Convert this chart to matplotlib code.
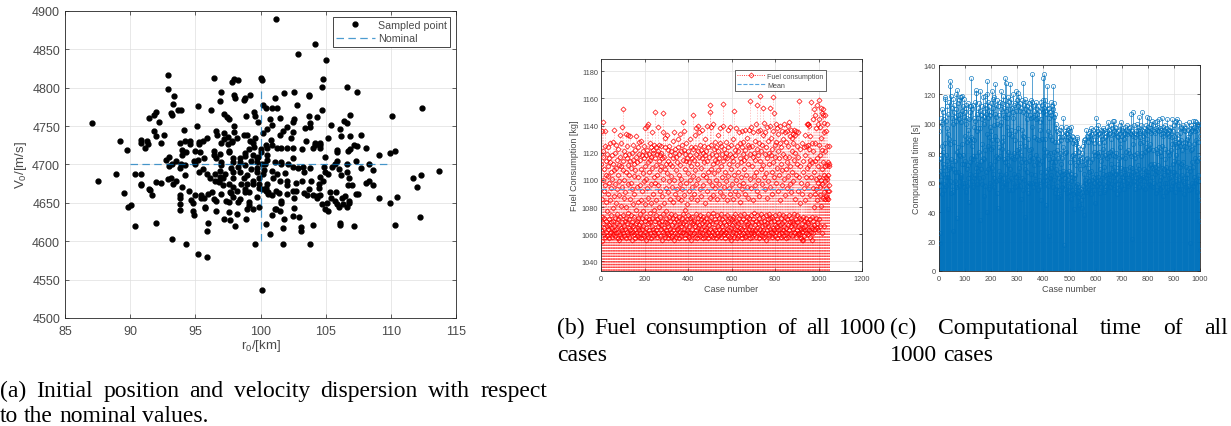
import numpy as np
import matplotlib.pyplot as plt
from matplotlib.lines import Line2D

plt.rcParams['font.family'] = ['Liberation Sans', 'DejaVu Sans']
plt.rcParams['mathtext.default'] = 'regular'

# (a) sampled initial conditions
r0_km = [
    101.2, 104.2, 102.9, 105.0, 92.9, 104.8, 100.0, 100.1, 97.8, 98.0,
    98.3, 96.4, 92.9, 93.4, 93.3, 104.7, 106.6, 107.4, 101.8, 102.6,
    103.7, 103.7, 98.0, 97.0, 99.2, 98.05, 98.8, 98.7, 96.9, 102.8,
    101.1, 100.2, 95.2, 96.2, 93.7, 93.9, 93.1, 93.2, 92.0, 91.8,
    91.45, 92.2, 87.1, 112.4, 110.1, 104.7, 106.9, 106.4, 106.6, 106.1,
    105.4, 104.3, 103.7, 102.6, 102.5, 102.0, 101.5, 100.7, 101.25, 100.4,
    100.9, 99.5, 99.6, 99.8, 98.9, 97.2, 97.4, 97.6, 98.0, 96.6,
    95.1, 94.1, 103.8, 103.8, 103.4, 106.2, 106.9, 107.7, 107.2, 107.4,
    108.1, 106.9, 106.7, 107.3, 107.7, 108.3, 109.1, 109.9, 110.3, 108.6,
    105.9, 105.9, 104.95, 105.2, 104.6, 104.6, 104.6, 104.2, 104.2, 104.0,
    103.5, 103.2, 102.5, 102.35, 102.5, 102.0, 101.7, 101.5, 101.6, 101.25,
    100.9, 100.5, 100.4, 100.5, 100.8, 100.2, 100.5, 100.9, 99.6, 99.45,
    99.5, 99.2, 99.0, 98.7, 98.2, 98.0, 97.8, 97.8, 97.5, 97.5,
    97.2, 97.2, 97.0, 96.7, 95.9, 95.6, 95.3, 95.3, 94.6, 94.6,
    94.2, 93.8, 93.95, 91.3, 90.8, 90.8, 91.4, 91.8, 92.0, 92.6,
    92.35, 91.1, 89.2, 89.75, 93.5, 93.0, 92.75, 93.8, 93.0, 93.2,
    93.9, 94.2, 94.9, 94.95, 95.2, 95.35, 95.7, 96.4, 96.4, 96.6,
    96.9, 97.6, 97.6, 97.0, 97.0, 97.9, 97.9, 98.4, 98.4, 98.8,
    98.8, 99.15, 99.45, 99.7, 99.7, 99.7, 100.0, 100.0, 100.35, 101.1,
    101.6, 101.6, 102.1, 102.5, 102.5, 102.9, 103.25, 103.35, 103.8, 104.6,
    104.9, 105.2, 105.5, 105.7, 105.9, 106.0, 106.2, 106.6, 106.6, 106.8,
    106.75, 107.05, 106.8, 106.8, 106.6, 106.5, 107.3, 107.5, 108.1, 108.3,
    108.6, 109.1, 109.9, 110.5, 110.3, 111.7, 112.0, 112.3, 112.2, 113.7,
    106.1, 106.1, 107.2, 104.95, 104.8, 104.5, 104.5, 103.9, 103.75, 103.2,
    102.7, 102.7, 102.5, 103.3, 103.55, 104.05, 104.3, 104.3, 104.6, 105.35,
    105.4, 105.8, 106.25, 105.7, 105.9, 105.1, 104.95, 105.2, 106.0, 104.7,
    102.6, 102.0, 101.6, 101.6, 101.4, 101.2, 100.9, 100.55, 100.55, 100.4,
    100.4, 100.5, 100.95, 101.25, 101.5, 101.9, 102.05, 102.05, 100.9, 100.2,
    99.85, 99.85, 99.85, 100.1, 99.45, 99.45, 99.0, 99.0, 98.7, 98.45,
    98.25, 98.8, 99.25, 97.9, 97.9, 97.7, 97.3, 96.9, 96.9, 96.5,
    96.5, 96.1, 95.9, 95.6, 95.3, 96.8, 96.8, 97.1, 97.1, 97.55,
    97.9, 98.2, 98.5, 98.8, 98.8, 99.15, 98.45, 98.25, 97.9, 97.65,
    97.7, 97.6, 97.35, 97.0, 96.6, 96.25, 96.4, 96.0, 95.7, 95.4,
    95.4, 95.0, 94.7, 94.8, 94.5, 94.2, 93.95, 93.85, 93.85, 93.85,
    93.85, 93.3, 93.5, 92.9, 93.1, 92.4, 92.0, 91.7, 91.5, 91.45,
    90.8, 90.8, 90.4, 90.85, 88.9, 87.5, 89.55, 89.8, 90.1, 90.35,
    92.0, 93.2, 94.3, 95.2, 95.9, 95.9, 96.0, 94.9, 94.8, 95.75,
    95.75, 96.6, 97.2, 97.6, 97.65, 98.2, 98.05, 98.9, 98.95, 99.15,
    99.15, 99.45, 99.85, 99.7, 99.6, 100.1, 100.4, 100.7, 100.9, 101.1,
    101.2, 101.5, 101.8, 101.75, 101.7, 102.55, 102.5, 102.95, 103.1, 103.1,
    103.8, 104.0, 106.3, 99.8, 100.1, 99.7, 100.3, 99.3, 100.5, 94.0, 94.3, 95.0,
]
v0_ms = [
    4890, 4857, 4844, 4836, 4817, 4812, 4813, 4810, 4807, 4811,
    4810, 4813, 4798, 4789, 4779, 4801, 4801, 4794, 4793, 4795,
    4791, 4789, 4791, 4794, 4790, 4786, 4787, 4784, 4783, 4778,
    4787, 4777, 4776, 4771, 4771, 4771, 4767, 4764, 4768, 4765,
    4761, 4756, 4754, 4773, 4763, 4771, 4765, 4757, 4754, 4746,
    4752, 4762, 4763, 4759, 4755, 4749, 4760, 4759, 4773, 4773,
    4773, 4768, 4763, 4755, 4763, 4766, 4762, 4759, 4750, 4743,
    4750, 4745, 4754, 4749, 4747, 4737, 4737, 4738, 4725, 4724,
    4722, 4720, 4718, 4705, 4695, 4701, 4713, 4715, 4718, 4693,
    4719, 4716, 4710, 4735, 4728, 4725, 4721, 4728, 4725, 4721,
    4730, 4720, 4742, 4735, 4722, 4722, 4743, 4738, 4722, 4722,
    4725, 4722, 4725, 4713, 4732, 4741, 4746, 4752, 4735, 4728,
    4723, 4730, 4738, 4739, 4734, 4742, 4731, 4729, 4736, 4727,
    4741, 4733, 4728, 4738, 4734, 4730, 4729, 4727, 4730, 4727,
    4731, 4728, 4719, 4730, 4732, 4728, 4727, 4743, 4737, 4739,
    4728, 4721, 4731, 4719, 4705, 4710, 4706, 4695, 4698, 4700,
    4701, 4699, 4704, 4701, 4706, 4716, 4708, 4717, 4712, 4708,
    4714, 4718, 4716, 4703, 4699, 4708, 4703, 4708, 4703, 4715,
    4711, 4720, 4713, 4709, 4703, 4696, 4720, 4716, 4700, 4703,
    4703, 4701, 4700, 4708, 4697, 4695, 4697, 4690, 4695, 4684,
    4697, 4688, 4697, 4700, 4704, 4694, 4686, 4690, 4700, 4682,
    4673, 4673, 4653, 4650, 4645, 4659, 4661, 4661, 4676, 4679,
    4673, 4656, 4650, 4658, 4621, 4682, 4671, 4686, 4632, 4692,
    4624, 4621, 4620, 4690, 4679, 4675, 4669, 4679, 4668, 4679,
    4676, 4666, 4665, 4663, 4660, 4660, 4659, 4657, 4660, 4664,
    4656, 4664, 4656, 4652, 4648, 4650, 4642, 4640, 4645, 4648,
    4656, 4661, 4653, 4650, 4663, 4665, 4660, 4664, 4662, 4669,
    4666, 4675, 4682, 4688, 4679, 4689, 4679, 4673, 4692, 4688,
    4682, 4675, 4669, 4668, 4679, 4674, 4686, 4674, 4682, 4690,
    4697, 4699, 4694, 4690, 4682, 4695, 4688, 4692, 4684, 4688,
    4679, 4682, 4688, 4694, 4690, 4679, 4677, 4682, 4673, 4674,
    4671, 4666, 4675, 4668, 4664, 4664, 4655, 4651, 4658, 4664,
    4663, 4651, 4653, 4661, 4653, 4664, 4655, 4662, 4656, 4660,
    4656, 4660, 4654, 4650, 4666, 4686, 4671, 4660, 4656, 4648,
    4641, 4675, 4678, 4681, 4682, 4676, 4677, 4660, 4667, 4668,
    4674, 4673, 4688, 4688, 4688, 4678, 4663, 4644, 4647, 4620,
    4624, 4603, 4596, 4584, 4579, 4614, 4624, 4634, 4640, 4645,
    4643, 4640, 4629, 4638, 4628, 4635, 4620, 4629, 4642, 4651,
    4647, 4642, 4645, 4658, 4596, 4536, 4622, 4609, 4634, 4642,
    4642, 4639, 4629, 4617, 4596, 4643, 4633, 4632, 4619, 4614,
    4596, 4621, 4648, 4710, 4700, 4690, 4693, 4705, 4706, 4712, 4716, 4718,
]
r0_nominal = 100
v0_nominal = 4700
r0_span = [90, 110]
v0_span = [4600, 4800]

# (b) fuel consumption per case [kg]
fuel_kg = [
    1112, 1063, 1136, 1055, 1086, 1073, 1121, 1143, 1068, 1100, 1117, 1060, 1092, 1072, 1108, 1065, 1125, 1058, 1096, 1136, 1070, 1114, 1062, 1084, 1104,
    1066, 1119, 1077, 1059, 1110, 1090, 1064, 1103, 1124, 1071, 1057, 1098, 1116, 1067, 1085, 1061, 1113, 1127, 1074, 1062, 1106, 1069, 1094, 1058, 1118,
    1065, 1101, 1079, 1128, 1060, 1112, 1070, 1088, 1063, 1107, 1137, 1066, 1097, 1059, 1120, 1072, 1083, 1064, 1109, 1126, 1061, 1075, 1115, 1068, 1093,
    1057, 1104, 1071, 1123, 1062, 1089, 1111, 1067, 1056, 1099, 1133, 1073, 1060, 1117, 1081, 1065, 1110, 1058, 1127, 1069, 1095, 1139, 1063, 1107, 1152,
    1074, 1061, 1114, 1087, 1066, 1121, 1059, 1100, 1070, 1118, 1064, 1091, 1134, 1057, 1106, 1072, 1080, 1116, 1062, 1125, 1068, 1097, 1060, 1111, 1076,
    1133, 1065, 1104, 1058, 1119, 1071, 1086, 1114, 1063, 1132, 1067, 1098, 1061, 1109, 1074, 1120, 1056, 1093, 1069, 1115, 1062, 1082, 1126, 1066, 1103,
    1060, 1112, 1073, 1090, 1122, 1064, 1057, 1107, 1078, 1068, 1117, 1061, 1132, 1095, 1070, 1059, 1113, 1084, 1065, 1124, 1072, 1102, 1058, 1119, 1067,
    1128, 1063, 1096, 1075, 1115, 1061, 1108, 1069, 1129, 1085, 1057, 1118, 1072, 1092, 1064, 1121, 1060, 1105, 1077, 1066, 1116, 1059, 1099, 1125, 1070,
    1062, 1110, 1082, 1138, 1065, 1118, 1056, 1101, 1073, 1122, 1060, 1094, 1140, 1068, 1113, 1058, 1087, 1141, 1071, 1119, 1063, 1106, 1076, 1127, 1061,
    1115, 1069, 1097, 1124, 1057, 1083, 1117, 1066, 1135, 1072, 1109, 1059, 1122, 1090, 1064, 1120, 1078, 1102, 1062, 1126, 1070, 1116, 1060, 1098, 1150,
    1074, 1124, 1063, 1111, 1085, 1119, 1058, 1104, 1071, 1139, 1066, 1096, 1121, 1061, 1114, 1080, 1126, 1068, 1107, 1059, 1118, 1073, 1092, 1125, 1064,
    1110, 1067, 1120, 1056, 1088, 1116, 1070, 1135, 1062, 1149, 1075, 1101, 1060, 1117, 1083, 1065, 1131, 1069, 1108, 1058, 1124, 1072, 1094, 1063, 1112,
    1077, 1133, 1061, 1105, 1068, 1122, 1057, 1091, 1114, 1066, 1125, 1073, 1099, 1060, 1112, 1070, 1086, 1064, 1118, 1058, 1103, 1075, 1121, 1062, 1095,
    1067, 1110, 1059, 1129, 1072, 1084, 1116, 1063, 1135, 1069, 1100, 1056, 1120, 1074, 1090, 1061, 1123, 1066, 1107, 1058, 1117, 1071, 1093, 1064, 1113,
    1060, 1124, 1070, 1087, 1130, 1065, 1104, 1057, 1119, 1073, 1097, 1062, 1134, 1068, 1111, 1059, 1085, 1121, 1066, 1101, 1072, 1126, 1061, 1093, 1143,
    1068, 1115, 1075, 1062, 1122, 1089, 1064, 1136, 1070, 1108, 1057, 1119, 1078, 1060, 1114, 1067, 1098, 1127, 1063, 1082, 1116, 1071, 1059, 1105, 1074,
    1121, 1062, 1092, 1066, 1113, 1058, 1130, 1072, 1100, 1061, 1118, 1069, 1087, 1124, 1056, 1110, 1073, 1095, 1064, 1116, 1060, 1123, 1068, 1103, 1148,
    1070, 1115, 1061, 1090, 1124, 1066, 1133, 1058, 1107, 1075, 1119, 1063, 1097, 1138, 1069, 1112, 1057, 1085, 1140, 1065, 1121, 1072, 1101, 1060, 1117,
    1067, 1135, 1074, 1093, 1062, 1126, 1059, 1109, 1071, 1122, 1064, 1088, 1116, 1068, 1137, 1061, 1104, 1073, 1120, 1057, 1096, 1066, 1125, 1070, 1113,
    1063, 1083, 1118, 1058, 1130, 1072, 1102, 1065, 1121, 1060, 1092, 1114, 1069, 1140, 1062, 1106, 1075, 1124, 1057, 1099, 1067, 1117, 1061, 1087, 1155,
    1070, 1150, 1064, 1108, 1126, 1059, 1139, 1073, 1096, 1062, 1119, 1068, 1141, 1058, 1112, 1076, 1089, 1123, 1065, 1105, 1060, 1128, 1071, 1094, 1115,
    1063, 1118, 1069, 1100, 1057, 1124, 1074, 1086, 1113, 1061, 1133, 1066, 1107, 1059, 1121, 1072, 1097, 1064, 1116, 1060, 1138, 1068, 1091, 1127, 1062,
    1110, 1075, 1125, 1058, 1102, 1066, 1119, 1071, 1140, 1156, 1063, 1088, 1114, 1060, 1123, 1069, 1095, 1057, 1117, 1073, 1106, 1062, 1128, 1067, 1099,
    1061, 1120, 1074, 1085, 1116, 1064, 1137, 1059, 1103, 1070, 1124, 1063, 1094, 1068, 1112, 1058, 1139, 1072, 1090, 1119, 1065, 1108, 1056, 1126, 1071,
    1097, 1060, 1117, 1067, 1130, 1073, 1086, 1114, 1062, 1151, 1069, 1104, 1058, 1122, 1075, 1092, 1064, 1118, 1061, 1138, 1070, 1100, 1057, 1125, 1066,
    1111, 1063, 1089, 1121, 1068, 1106, 1059, 1135, 1072, 1096, 1062, 1116, 1065, 1127, 1074, 1084, 1113, 1060, 1102, 1069, 1124, 1057, 1093, 1136, 1064,
    1119, 1071, 1098, 1061, 1128, 1066, 1108, 1075, 1115, 1058, 1137, 1063, 1090, 1122, 1070, 1104, 1059, 1117, 1067, 1131, 1062, 1095, 1073, 1126, 1060,
    1112, 1068, 1087, 1124, 1064, 1137, 1072, 1101, 1057, 1119, 1066, 1158, 1074, 1094, 1061, 1139, 1069, 1110, 1063, 1125, 1058, 1085, 1117, 1071, 1135,
    1062, 1103, 1076, 1120, 1060, 1129, 1067, 1096, 1115, 1063, 1141, 1070, 1106, 1058, 1123, 1074, 1155, 1065, 1092, 1118, 1061, 1136, 1068, 1100, 1057,
    1127, 1072, 1088, 1114, 1064, 1137, 1060, 1162, 1069, 1108, 1075, 1121, 1062, 1097, 1066, 1126, 1059, 1111, 1073, 1133, 1063, 1153, 1070, 1102, 1058,
    1142, 1067, 1093, 1119, 1061, 1135, 1074, 1105, 1056, 1124, 1068, 1087, 1116, 1063, 1139, 1071, 1099, 1060, 1129, 1066, 1112, 1075, 1120, 1059, 1153,
    1064, 1140, 1072, 1095, 1118, 1062, 1131, 1069, 1106, 1058, 1123, 1073, 1090, 1136, 1065, 1113, 1061, 1161, 1070, 1102, 1063, 1149, 1067, 1126, 1059,
    1117, 1074, 1141, 1062, 1098, 1128, 1066, 1109, 1057, 1138, 1071, 1092, 1121, 1063, 1134, 1069, 1104, 1060, 1116, 1075, 1127, 1064, 1085, 1140, 1067,
    1112, 1058, 1124, 1072, 1096, 1061, 1136, 1068, 1107, 1063, 1119, 1074, 1130, 1059, 1101, 1066, 1141, 1070, 1089, 1117, 1062, 1135, 1073, 1108, 1057,
    1128, 1065, 1094, 1136, 1061, 1113, 1071, 1140, 1067, 1103, 1058, 1125, 1074, 1143, 1063, 1117, 1069, 1097, 1132, 1060, 1110, 1072, 1137, 1066, 1091,
    1121, 1059, 1131, 1070, 1106, 1064, 1134, 1068, 1099, 1127, 1062, 1115, 1075, 1137, 1061, 1086, 1120, 1067, 1133, 1058, 1104, 1071, 1136, 1063, 1112,
    1069, 1125, 1074, 1092, 1135, 1060, 1117, 1066, 1158, 1072, 1102, 1061, 1083, 1123, 1065, 1060, 1110, 1071, 1057, 1098, 1064, 1127, 1056, 1068, 1090,
    1062, 1114, 1073, 1056, 1106, 1065, 1124, 1059, 1094, 1070, 1118, 1063, 1085, 1133, 1066, 1102, 1061, 1125, 1072, 1109, 1064, 1141, 1069, 1097, 1141,
    1060, 1126, 1141, 1068, 1111, 1140, 1063, 1123, 1071, 1089, 1132, 1058, 1115, 1066, 1102, 1157, 1062, 1127, 1073, 1056, 1113, 1065, 1145, 1070, 1094,
    1121, 1061, 1106, 1080, 1152, 1067, 1114, 1090, 1127, 1064, 1148, 1101, 1072, 1138, 1093, 1065, 1116, 1085, 1155, 1068, 1110, 1098, 1141, 1063, 1159,
    1102, 1126, 1071, 1145, 1095, 1118, 1066, 1139, 1089, 1153, 1100, 1081, 1131, 1108, 1149, 1061, 1122, 1097, 1152, 1087, 1113, 1148, 1066, 1135, 1104,
    1091, 1142, 1110, 1086, 1148, 1099, 1121, 1088, 1136, 1102, 1094, 1141, 1111, 1087, 1125, 1101, 1092, 1113, 1104, 1086, 1112, 1096, 1110, 1092, 1125,
]
fuel_mean_kg = 1093.5

# (c) computational time per case [s]
comp_time_s = [
    95, 68, 26, 76, 19, 58, 104, 77, 62, 110, 52, 85, 100, 73, 66, 108, 81, 59, 55, 103, 71, 87, 118, 117, 64,
    79, 102, 58, 112, 66, 97, 75, 42, 93, 64, 107, 69, 71, 115, 90, 61, 86, 129, 126, 76, 119, 53, 111, 58, 104,
    72, 117, 54, 100, 27, 108, 69, 113, 88, 61, 105, 75, 67, 110, 57, 102, 120, 123, 81, 36, 106, 67, 84, 114, 79,
    58, 103, 116, 78, 64, 107, 118, 65, 101, 63, 118, 119, 73, 109, 86, 60, 112, 79, 105, 57, 73, 117, 92, 60, 108,
    75, 113, 54, 100, 111, 69, 88, 58, 104, 114, 72, 96, 63, 89, 47, 103, 112, 74, 108, 66, 91, 77, 131, 112, 85,
    61, 110, 90, 57, 113, 76, 78, 104, 98, 63, 89, 115, 65, 102, 70, 121, 123, 78, 107, 59, 95, 73, 111, 68, 97,
    104, 72, 63, 114, 81, 35, 97, 109, 122, 69, 106, 75, 112, 59, 86, 103, 118, 64, 108, 77, 100, 51, 105, 76, 113,
    119, 82, 58, 107, 67, 111, 93, 129, 120, 40, 104, 115, 69, 85, 109, 56, 112, 91, 73, 98, 106, 60, 114, 83, 95,
    108, 122, 70, 89, 117, 66, 111, 84, 63, 118, 99, 57, 107, 75, 127, 92, 113, 61, 105, 78, 116, 53, 100, 89, 43,
    77, 112, 84, 62, 106, 68, 115, 99, 78, 64, 101, 122, 65, 110, 83, 57, 114, 88, 106, 63, 119, 91, 60, 111, 76,
    105, 116, 131, 74, 109, 59, 128, 66, 104, 113, 77, 98, 62, 118, 81, 72, 107, 55, 115, 93, 127, 69, 110, 78, 96,
    63, 117, 92, 55, 111, 77, 104, 120, 60, 108, 80, 66, 113, 76, 95, 57, 114, 89, 122, 64, 109, 82, 58, 116, 78,
    121, 97, 65, 112, 83, 61, 118, 70, 109, 58, 87, 114, 74, 49, 111, 79, 96, 63, 116, 92, 55, 108, 128, 76, 113,
    91, 62, 117, 85, 37, 69, 110, 74, 107, 115, 58, 103, 112, 67, 90, 53, 109, 75, 114, 82, 60, 106, 78, 111, 59,
    104, 66, 116, 83, 134, 98, 60, 115, 77, 105, 57, 112, 72, 109, 91, 65, 113, 61, 106, 79, 115, 59, 103, 110, 74,
    90, 107, 55, 112, 76, 104, 89, 62, 109, 73, 101, 58, 96, 115, 67, 48, 103, 110, 75, 113, 90, 61, 108, 116, 131,
    78, 134, 111, 83, 116, 64, 109, 90, 45, 107, 67, 113, 81, 62, 126, 95, 69, 110, 58, 104, 24, 76, 111, 92, 63,
    108, 80, 115, 65, 106, 70, 112, 89, 74, 57, 110, 77, 126, 114, 81, 62, 105, 53, 88, 107, 74, 56, 100, 69, 97,
    66, 95, 58, 82, 50, 88, 77, 63, 91, 55, 94, 67, 80, 96, 51, 89, 73, 62, 98, 65, 77, 91, 57, 84, 68,
    104, 59, 92, 66, 18, 95, 63, 80, 56, 98, 67, 81, 94, 53, 93, 65, 89, 58, 96, 62, 91, 68, 54, 97, 74,
    90, 57, 95, 66, 49, 98, 61, 78, 55, 92, 64, 79, 91, 52, 87, 63, 76, 89, 42, 65, 80, 54, 88, 58, 72,
    86, 53, 90, 91, 59, 74, 50, 84, 57, 78, 55, 81, 45, 76, 52, 69, 83, 48, 75, 56, 80, 43, 77, 54, 72,
    58, 85, 51, 89, 66, 38, 88, 60, 73, 90, 62, 96, 59, 76, 54, 92, 63, 77, 91, 55, 70, 88, 61, 94, 67,
    56, 92, 74, 59, 95, 68, 52, 90, 97, 62, 76, 93, 58, 89, 64, 96, 60, 81, 55, 87, 94, 63, 79, 46, 92,
    66, 97, 104, 61, 80, 95, 58, 78, 93, 64, 99, 60, 81, 87, 53, 94, 69, 62, 96, 75, 92, 57, 78, 95, 63,
    90, 66, 97, 59, 83, 88, 54, 96, 71, 91, 55, 79, 94, 65, 92, 58, 98, 77, 63, 95, 80, 60, 101, 66, 93,
    78, 62, 96, 81, 57, 94, 66, 99, 73, 90, 82, 59, 97, 67, 102, 64, 93, 79, 102, 56, 95, 71, 65, 98, 78,
    61, 94, 80, 66, 97, 52, 92, 68, 95, 73, 91, 59, 96, 77, 93, 55, 99, 62, 89, 84, 58, 101, 70, 66, 96,
    64, 92, 78, 95, 61, 97, 69, 93, 56, 90, 98, 65, 94, 77, 81, 63, 96, 69, 60, 93, 99, 66, 82, 58, 95,
    62, 97, 80, 66, 94, 71, 59, 98, 78, 93, 65, 107, 70, 95, 64, 22, 108, 67, 92, 86, 61, 99, 79, 94, 56,
    91, 77, 63, 95, 68, 93, 60, 100, 80, 66, 96, 72, 64, 98, 105, 69, 94, 57, 91, 87, 62, 95, 78, 63, 99,
    65, 108, 80, 96, 57, 92, 88, 64, 94, 69, 95, 61, 97, 81, 56, 93, 99, 68, 84, 63, 90, 96, 105, 67, 82,
    98, 65, 83, 104, 59, 95, 72, 97, 61, 86, 100, 73, 58, 94, 102, 70, 64, 96, 82, 57, 99, 73, 60, 95, 69,
    94, 66, 101, 71, 97, 53, 83, 68, 96, 80, 55, 102, 72, 67, 98, 84, 103, 59, 95, 62, 81, 97, 56, 93, 78,
    96, 64, 104, 70, 85, 57, 92, 98, 51, 94, 69, 96, 65, 83, 99, 60, 76, 95, 71, 54, 97, 68, 93, 60, 103,
    67, 94, 81, 55, 96, 79, 63, 92, 98, 70, 95, 56, 82, 97, 64, 91, 86, 58, 103, 73, 67, 95, 60, 99, 75,
    92, 67, 88, 54, 86, 101, 61, 102, 79, 103, 65, 84, 93, 58, 87, 74, 90, 56, 88, 101, 62, 85, 97, 71, 94,
    56, 98, 73, 89, 65, 82, 97, 61, 87, 74, 99, 60, 85, 96, 52, 88, 95, 63, 97, 71, 100, 57, 84, 90, 66,
    89, 63, 96, 58, 91, 101, 55, 86, 70, 94, 19, 68, 97, 82, 56, 95, 99, 60, 74, 96, 83, 58, 97, 71, 102,
    64, 86, 98, 102, 60, 95, 77, 101, 62, 97, 89, 54, 100, 75, 96, 61, 99, 88, 65, 100, 34, 77, 48, 92, 14,
]

captions = {
    'a': (["(a) Initial position and velocity dispersion with respect", "to the nominal values."], 0, 547, 397),
    'b': (["(b) Fuel consumption of all 1000", "cases"], 557, 886, 334),
    'c': (["(c) Computational time of all", "1000 cases"], 890, 1228, 334),
}

W, H = 1231, 427
fig = plt.figure(figsize=(W / 100, H / 100), dpi=100)

ml_blue = '#0072BD'
ax_col = '#262626'
tick_col = '#4a4a4a'


def px_axes(left, top, right, bottom):
    return fig.add_axes([left / W, 1 - bottom / H, (right - left) / W, (bottom - top) / H])


def matlab_style(ax, fs, ticklen, xpad, ypad):
    ax.grid(True, color='#dedede', linewidth=0.5)
    ax.set_axisbelow(True)
    for s in ax.spines.values():
        s.set_color(ax_col)
        s.set_linewidth(0.6)
    ax.tick_params(direction='in', top=True, right=True, length=ticklen, width=0.5,
                   color=ax_col, labelcolor=tick_col, labelsize=fs)
    ax.tick_params(axis='x', pad=xpad)
    ax.tick_params(axis='y', pad=ypad)


# ---- (a) scatter
ax1 = px_axes(65, 12, 456, 319)
ax1.plot(r0_km, v0_ms, 'o', color='black', markersize=3.5, linestyle='none', zorder=3)
ax1.plot(r0_span, [v0_nominal, v0_nominal], '--', color=ml_blue, lw=0.9, dashes=(6, 3.5), alpha=0.7, zorder=4)
ax1.plot([r0_nominal, r0_nominal], v0_span, '--', color=ml_blue, lw=0.9, dashes=(6, 3.5), alpha=0.7, zorder=4)
ax1.set_xlim(85, 115)
ax1.set_ylim(4500, 4900)
ax1.set_xticks(np.arange(85, 116, 5))
ax1.set_yticks(np.arange(4500, 4901, 50))
matlab_style(ax1, 9, 3, 5, 3.5)
ax1.set_xlabel('r$_0$/[km]', fontsize=9.5, color=tick_col, labelpad=0)
ax1.set_ylabel('V$_0$/[m/s]', fontsize=9.5, color=tick_col, labelpad=2)
h1 = [Line2D([], [], marker='o', color='black', ms=3.5, ls='none'),
      Line2D([], [], color=ml_blue, ls='--', lw=0.9, dashes=(6, 3.5), alpha=0.7)]
leg = ax1.legend(h1, ['Sampled point', 'Nominal'], loc='upper right', fontsize=7.7,
                 frameon=True, fancybox=False, edgecolor=ax_col, framealpha=1,
                 handlelength=3.6, handletextpad=0.3, borderpad=0.3, labelspacing=0.3,
                 borderaxespad=0.55)
leg.get_frame().set_linewidth(0.6)
for t in leg.get_texts():
    t.set_color(tick_col)

# ---- (b) fuel stems
case_b = np.arange(1, len(fuel_kg) + 1)
ax2 = px_axes(601, 60, 862, 272)
ax2.vlines(case_b, 0, fuel_kg, colors='red', linestyles=(0, (2.2, 2.2)), linewidth=0.45, alpha=0.35, zorder=2)
ax2.plot(case_b, fuel_kg, 'D', mfc='none', mec='red', ms=2.6, mew=0.5, ls='none', zorder=3)
ax2.plot([case_b[0], case_b[-1]], [fuel_mean_kg, fuel_mean_kg], color='#5aa6e0', ls='--', lw=0.8, dashes=(5, 3), zorder=4)
ax2.set_xlim(0, 1200)
ax2.set_ylim(1033, 1189)
ax2.set_xticks(np.arange(0, 1201, 200))
ax2.set_yticks(np.arange(1040, 1181, 20))
matlab_style(ax2, 5.3, 2, 3, 2)
ax2.set_xlabel('Case number', fontsize=6.5, color=tick_col, labelpad=1)
ax2.set_ylabel('Fuel Consumption [kg]', fontsize=6.5, color=tick_col, labelpad=2)
h2 = [Line2D([], [], color='red', ls=':', lw=0.6, marker='D', mfc='none', mec='red', ms=2.6, mew=0.5),
      Line2D([], [], color='#5aa6e0', ls='--', lw=0.8)]
leg2 = ax2.legend(h2, ['Fuel consumption', 'Mean'], loc='upper left', bbox_to_anchor=(0.512, 0.946),
                  borderaxespad=0, fontsize=5.1, frameon=True, fancybox=False, edgecolor=ax_col,
                  framealpha=1, handlelength=4.0, handletextpad=0.3, borderpad=0.3, labelspacing=0.3)
leg2.get_frame().set_linewidth(0.5)
for t in leg2.get_texts():
    t.set_color(tick_col)

# ---- (c) computational time stems
case_c = np.arange(1, len(comp_time_s) + 1)
ax3 = px_axes(939, 66, 1200, 272)
ax3.vlines(case_c, 0, comp_time_s, colors=ml_blue, linewidth=0.45, zorder=2)
ax3.plot(case_c, comp_time_s, 'o', mfc='none', mec=ml_blue, ms=3.0, mew=0.45, ls='none', zorder=3)
ax3.set_xlim(0, 1000)
ax3.set_ylim(0, 140)
ax3.set_xticks(np.arange(0, 1001, 100))
ax3.set_yticks(np.arange(0, 141, 20))
matlab_style(ax3, 5.3, 2, 3, 2)
ax3.set_xlabel('Case number', fontsize=6.5, color=tick_col, labelpad=1)
ax3.set_ylabel('Computational time [s]', fontsize=6.5, color=tick_col, labelpad=2)

# ---- captions (justified first line, like the paper)
cap_fs = 17
line_gap = 25
renderer = fig.canvas.get_renderer()


def caption_line(text, x0, x1, ybase, justify):
    words = text.split()
    objs = [fig.text(0, 1 - ybase / H, w, fontsize=cap_fs, family='Liberation Serif',
                     va='baseline', ha='left', color='black') for w in words]
    widths = [o.get_window_extent(renderer).width for o in objs]
    if justify and len(words) > 1:
        gap = (x1 - x0 - sum(widths)) / (len(words) - 1)
    else:
        gap = cap_fs * 100 / 72 * 0.25
    x = x0
    for o, w in zip(objs, widths):
        o.set_x(x / W)
        x += w + gap


for lines, x0, x1, yb in captions.values():
    caption_line(lines[0], x0, x1, yb, True)
    caption_line(lines[1], x0, x1, yb + line_gap + (0 if yb > 350 else 2), False)

fig.savefig('out.png', dpi=100)
